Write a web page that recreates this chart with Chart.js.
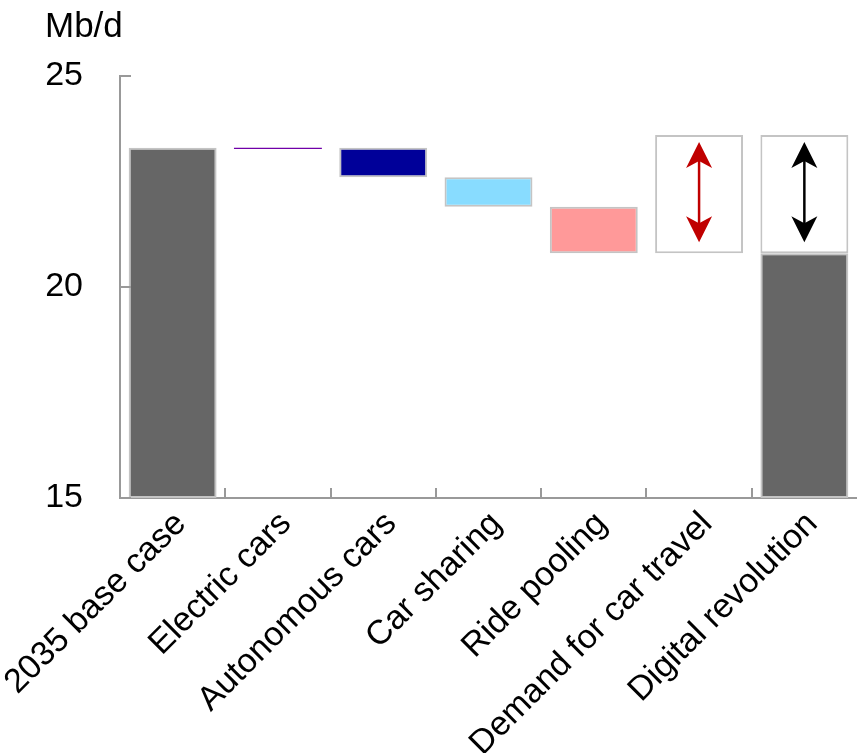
<!DOCTYPE html>
<html><head><meta charset="utf-8">
<script src="https://cdn.jsdelivr.net/npm/chart.js@4.4.1/dist/chart.umd.min.js"></script>
<style>html,body{margin:0;padding:0;background:#fff}#wrap{width:857px;height:753px}</style>
</head><body><div id="wrap"><canvas id="c" width="857" height="753"></canvas></div>
<script>
const categories = ["2035 base case","Electric cars","Autonomous cars","Car sharing","Ride pooling","Demand for car travel","Digital revolution"];
const barStarts = [15, 23.3, 23.3, 22.6, 21.9, null, 15];
const barEnds   = [23.3, 23.27, 22.6, 21.9, 20.8, null, 20.8];
const rangeLow  = [null, null, null, null, null, 20.8, 20.8];
const rangeHigh = [null, null, null, null, null, 23.6, 23.6];
const barColors = ["#666666","#7000a8","#000099","#88dcff","#ff9999","#ffffff","#666666"];
const arrowColors = [null,null,null,null,null,"#c00000","#000000"];
const yTicks = [15, 20, 25];
const unitLabel = "Mb/d";

const FONT = "'Liberation Sans', Arial, sans-serif";
const mainData = categories.map((c,i)=> barStarts[i]==null ? null : [barStarts[i], barEnds[i]]);
const boxData = categories.map((c,i)=> rangeLow[i]==null ? null : [rangeLow[i], rangeHigh[i]]);

const extras = {
  id: 'extras',
  afterDraw(chart){
    const ctx = chart.ctx, x = chart.scales.x, y = chart.scales.y;
    ctx.save();
    ctx.strokeStyle = '#999999'; ctx.lineWidth = 2;
    yTicks.forEach(v=>{
      const py = Math.round(y.getPixelForValue(v));
      ctx.beginPath(); ctx.moveTo(x.left, py); ctx.lineTo(x.left+11, py); ctx.stroke();
    });
    for(let i=1;i<categories.length;i++){
      const px = Math.round((x.getPixelForTick(i-1)+x.getPixelForTick(i))/2);
      ctx.beginPath(); ctx.moveTo(px, y.bottom); ctx.lineTo(px, y.bottom-10); ctx.stroke();
    }
    categories.forEach((c,i)=>{
      if(!arrowColors[i]) return;
      const cx = x.getPixelForValue(i);
      const top = y.getPixelForValue(rangeHigh[i]) + 7;
      const bot = y.getPixelForValue(rangeLow[i]) - 11;
      ctx.strokeStyle = arrowColors[i]; ctx.fillStyle = arrowColors[i];
      ctx.lineWidth = 2.5;
      ctx.beginPath(); ctx.moveTo(cx, top+18); ctx.lineTo(cx, bot-18); ctx.stroke();
      const head = (tipY, dir)=>{
        ctx.beginPath();
        ctx.moveTo(cx, tipY);
        ctx.lineTo(cx+13, tipY+dir*26);
        ctx.lineTo(cx, tipY+dir*19);
        ctx.lineTo(cx-13, tipY+dir*26);
        ctx.closePath(); ctx.fill();
      };
      head(top, 1); head(bot, -1);
    });
    ctx.fillStyle = '#000'; ctx.font = '35px ' + FONT;
    ctx.textAlign = 'left'; ctx.textBaseline = 'alphabetic';
    ctx.fillText(unitLabel, 45, 37);
    ctx.restore();
  }
};

new Chart(document.getElementById('c'), {
  type: 'bar',
  data: {
    labels: categories,
    datasets: [
      { data: mainData, backgroundColor: barColors, borderColor: categories.map((c,i)=> i===1 ? barColors[i] : '#c4c4c4'),
        borderWidth: categories.map((c,i)=> i===1 ? 0 : 2), borderSkipped: false,
        barPercentage: 0.835, categoryPercentage: 1, grouped: false },
      { data: boxData, backgroundColor: '#ffffff', borderColor: '#c4c4c4', borderWidth: 2, borderSkipped: false,
        barPercentage: 0.835, categoryPercentage: 1, grouped: false }
    ]
  },
  options: {
    responsive: false, animation: false, devicePixelRatio: 1,
    layout: { padding: { top: 76, right: 0, left: 0, bottom: 0 } },
    plugins: { legend: { display: false }, tooltip: { enabled: false }, title: { display: false } },
    scales: {
      x: {
        grid: { display: false },
        border: { display: true, color: '#999999', width: 2 },
        ticks: { color: '#000', font: { family: FONT, size: 34 }, maxRotation: 45, minRotation: 45, padding: -2, labelOffset: 8, autoSkip: false },
        afterFit(s){ s.height = 255; s.paddingLeft = 0; s.paddingRight = 0; }
      },
      y: {
        min: 15, max: 25,
        afterBuildTicks(s){ s.ticks = yTicks.map(v=>({value:v})); },
        grid: { display: false },
        border: { display: true, color: '#999999', width: 2 },
        ticks: { color: '#000', font: { family: FONT, size: 34 }, padding: 29 },
        afterFit(s){ s.width = 120; s.paddingTop = 0; s.paddingBottom = 0; }
      }
    }
  },
  plugins: [extras]
});
</script></body></html>
